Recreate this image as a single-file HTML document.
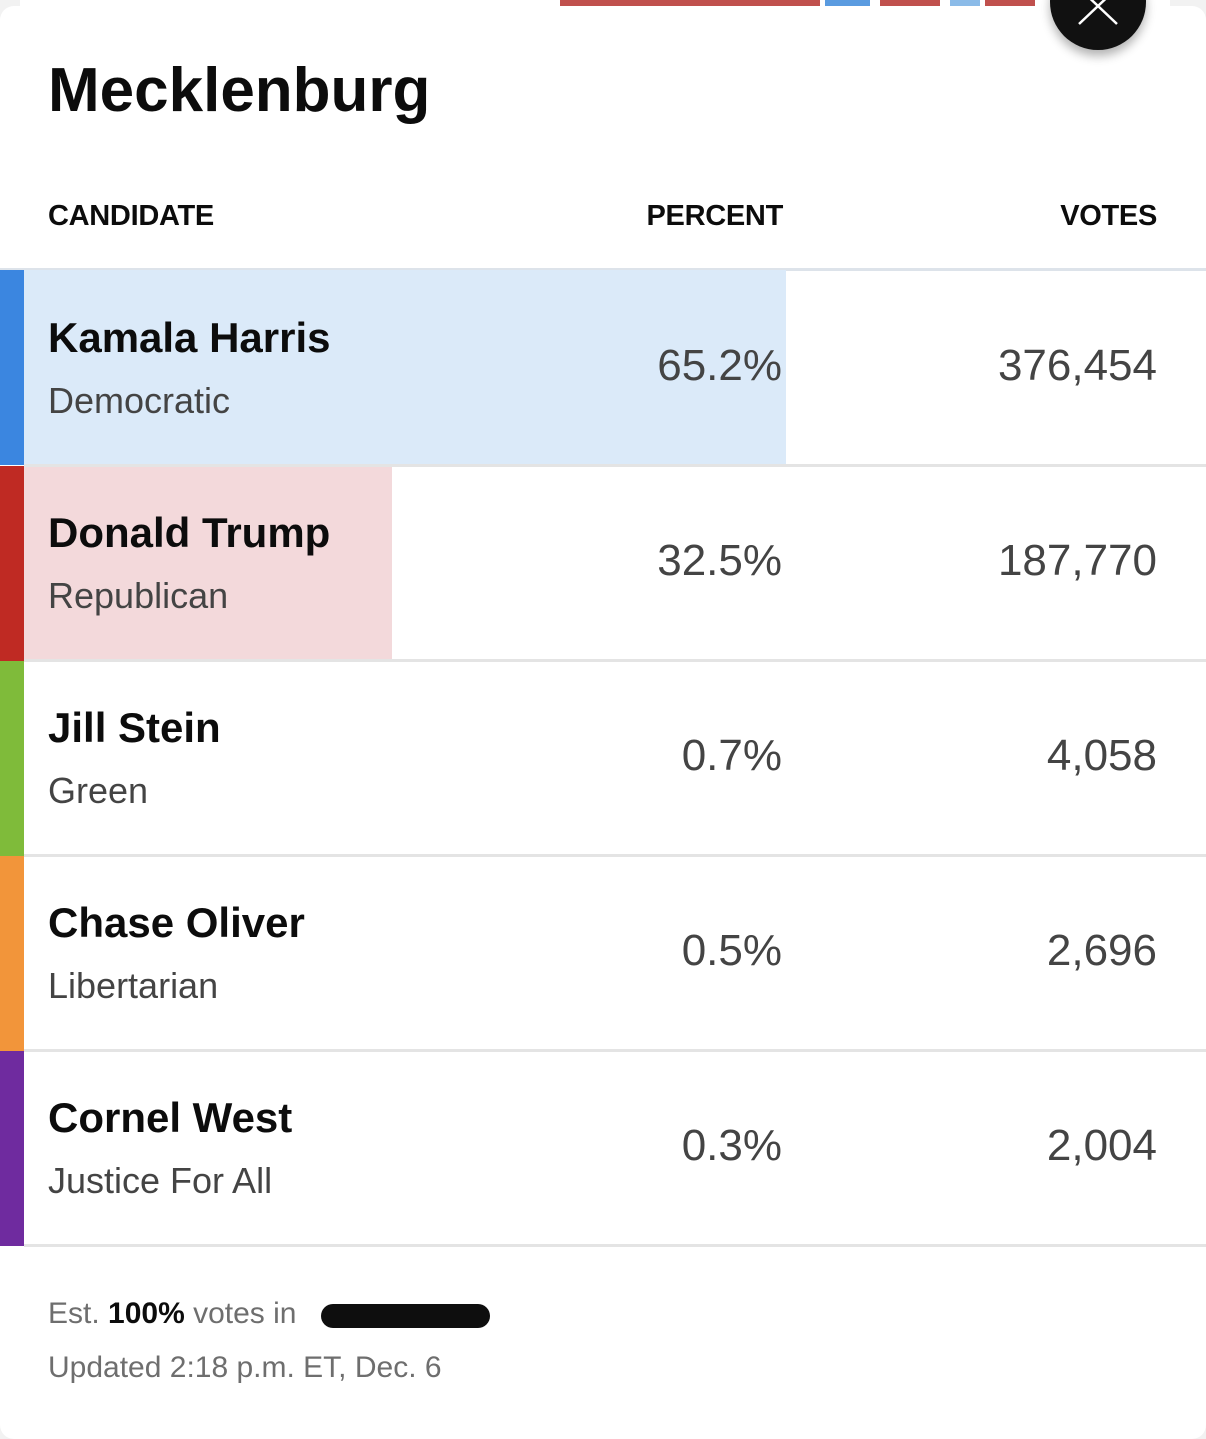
<!DOCTYPE html>
<html><head><meta charset="utf-8"><style>
body{margin:0;width:1206px;height:1439px;background:#f2f2f2;position:relative;overflow:hidden;font-family:"Liberation Sans",Arial,sans-serif}
.card{position:absolute;left:0;top:6px;width:1206px;height:1433px;background:#fff;border-radius:14px}
.a{position:absolute;line-height:1;white-space:nowrap}
.r{text-align:right}
.line{position:absolute;left:24px;width:1182px;height:3px;background:#e4e4e4}
</style></head><body>
<div style="position:absolute;left:20px;top:0;width:1150px;height:6px;background:#fff"></div>
<div style="position:absolute;left:560px;top:0;width:260px;height:8px;background:#c0504d"></div>
<div style="position:absolute;left:825px;top:0;width:45px;height:8px;background:#5a9be0"></div>
<div style="position:absolute;left:880px;top:0;width:60px;height:8px;background:#c0504d"></div>
<div style="position:absolute;left:950px;top:0;width:30px;height:8px;background:#8bbbe8"></div>
<div style="position:absolute;left:985px;top:0;width:50px;height:8px;background:#c0504d"></div>
<div class="card"></div>
<div style="position:absolute;left:1050px;top:-46px;width:96px;height:96px;border-radius:50%;background:#111;box-shadow:0 6px 10px rgba(0,0,0,.3)"></div>
<svg style="position:absolute;left:1076px;top:0" width="44" height="30"><path d="M3 -12 L41 24 M41 -12 L3 24" stroke="#fff" stroke-width="2.5" fill="none"/></svg>
<div class="a" style="left:48px;top:60px;font-size:62px;font-weight:bold;color:#0c0c0c">Mecklenburg</div>
<div class="a" style="left:48px;top:202px;font-size:29px;font-weight:bold;color:#0c0c0c;letter-spacing:-.3px">CANDIDATE</div>
<div class="a r" style="right:423px;top:202px;font-size:29px;font-weight:bold;color:#0c0c0c;letter-spacing:-.3px">PERCENT</div>
<div class="a r" style="right:49px;top:202px;font-size:29px;font-weight:bold;color:#0c0c0c;letter-spacing:-.3px">VOTES</div>
<div class="line" style="left:0;width:1206px;top:268px;background:#dde3ea"></div>
<div style="position:absolute;left:0;top:270px;width:24px;height:195px;background:#3b86e0"></div>
<div style="position:absolute;left:24px;top:270px;width:762px;height:195px;background:#dbeaf9"></div>
<div style="position:absolute;left:0;top:466px;width:24px;height:195px;background:#bf2a23"></div>
<div style="position:absolute;left:24px;top:466px;width:368px;height:195px;background:#f3d9db"></div>
<div style="position:absolute;left:0;top:661px;width:24px;height:195px;background:#7fbb3a"></div>
<div style="position:absolute;left:0;top:856px;width:24px;height:195px;background:#f2953a"></div>
<div style="position:absolute;left:0;top:1051px;width:24px;height:195px;background:#6f2b9f"></div>
<div class="line" style="top:464px"></div>
<div class="line" style="top:659px"></div>
<div class="line" style="top:854px"></div>
<div class="line" style="top:1049px"></div>
<div class="line" style="top:1244px"></div>

<div class="a" style="left:48px;top:317px;font-size:42px;font-weight:bold;color:#0c0c0c">Kamala Harris</div>
<div class="a" style="left:48px;top:383px;font-size:36px;color:#444">Democratic</div>
<div class="a r" style="right:424px;top:344px;font-size:44px;color:#444">65.2%</div>
<div class="a r" style="right:49px;top:344px;font-size:44px;color:#444">376,454</div>

<div class="a" style="left:48px;top:512px;font-size:42px;font-weight:bold;color:#0c0c0c">Donald Trump</div>
<div class="a" style="left:48px;top:578px;font-size:36px;color:#444">Republican</div>
<div class="a r" style="right:424px;top:539px;font-size:44px;color:#444">32.5%</div>
<div class="a r" style="right:49px;top:539px;font-size:44px;color:#444">187,770</div>

<div class="a" style="left:48px;top:707px;font-size:42px;font-weight:bold;color:#0c0c0c">Jill Stein</div>
<div class="a" style="left:48px;top:773px;font-size:36px;color:#444">Green</div>
<div class="a r" style="right:424px;top:734px;font-size:44px;color:#444">0.7%</div>
<div class="a r" style="right:49px;top:734px;font-size:44px;color:#444">4,058</div>

<div class="a" style="left:48px;top:902px;font-size:42px;font-weight:bold;color:#0c0c0c">Chase Oliver</div>
<div class="a" style="left:48px;top:968px;font-size:36px;color:#444">Libertarian</div>
<div class="a r" style="right:424px;top:929px;font-size:44px;color:#444">0.5%</div>
<div class="a r" style="right:49px;top:929px;font-size:44px;color:#444">2,696</div>

<div class="a" style="left:48px;top:1097px;font-size:42px;font-weight:bold;color:#0c0c0c">Cornel West</div>
<div class="a" style="left:48px;top:1163px;font-size:36px;color:#444">Justice For All</div>
<div class="a r" style="right:424px;top:1124px;font-size:44px;color:#444">0.3%</div>
<div class="a r" style="right:49px;top:1124px;font-size:44px;color:#444">2,004</div>

<div class="a" style="left:48px;top:1299px;font-size:30px;color:#6e6e6e">Est. <b style="color:#0c0c0c">100%</b> votes in</div>
<div style="position:absolute;left:321px;top:1304px;width:169px;height:24px;border-radius:12px;background:#0e0e0e"></div>
<div class="a" style="left:48px;top:1353px;font-size:30px;color:#6e6e6e">Updated 2:18 p.m. ET, Dec. 6</div>
</body></html>
